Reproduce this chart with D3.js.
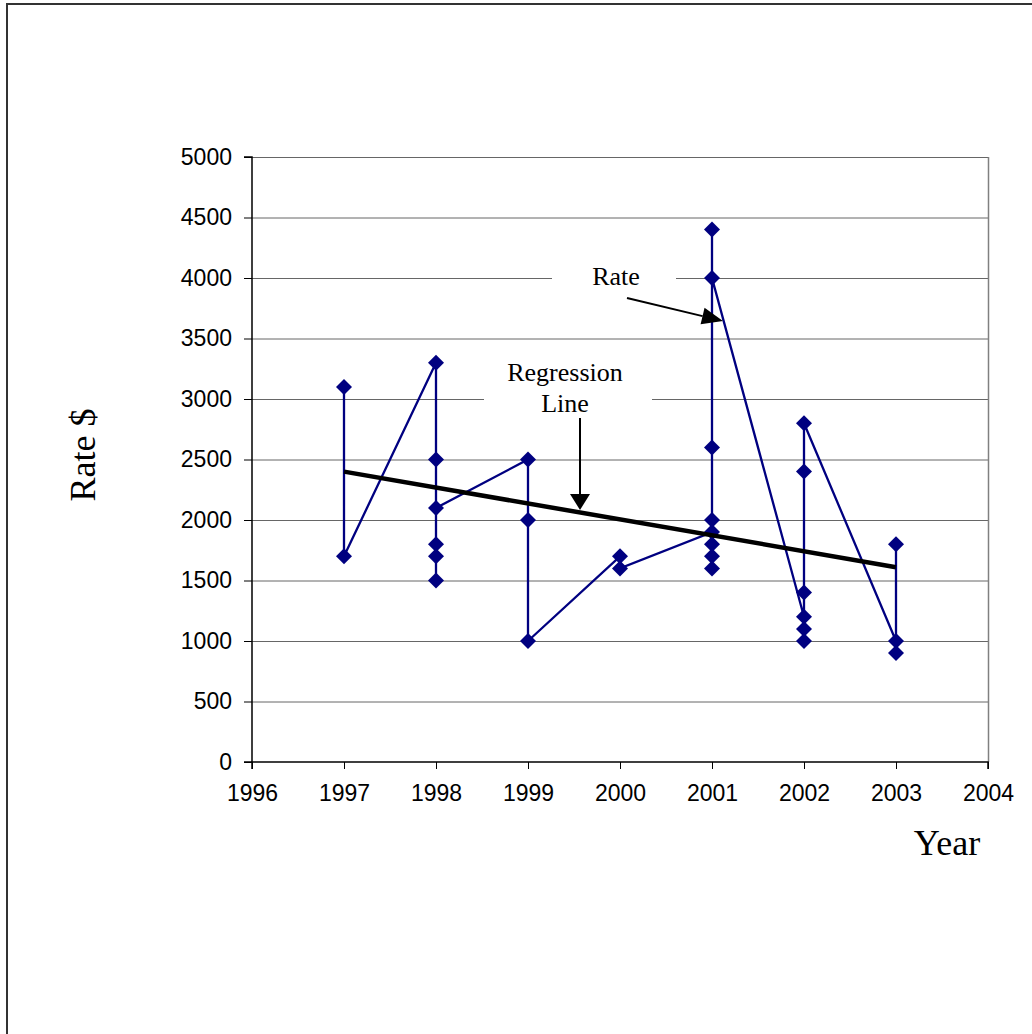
<!DOCTYPE html>
<html><head><meta charset="utf-8">
<script src="https://cdn.jsdelivr.net/npm/d3@7"></script>
<style>body{margin:0;background:#fff}svg{display:block}</style>
</head><body>
<svg id="c" width="1032" height="1034"></svg>
<script>
// data in drawing order (line connects points in this order)
const years = [1997,1997, 1998,1998,1998,1998,1998,1998, 1999,1999,1999, 2000,2000,
  2001,2001,2001,2001,2001,2001,2001,2001, 2002,2002,2002,2002,2002,2002, 2003,2003,2003];
const rates = [3100,1700, 3300,2500,1800,1700,1500,2100, 2500,2000,1000, 1700,1600,
  1900,1600,1700,1800,2000,2600,4400,4000, 1200,1000,1100,1400,2400,2800, 1000,900,1800];
const regYears = [1997, 2003];
const regRates = [2400, 1610];
const xTicks = [1996,1997,1998,1999,2000,2001,2002,2003,2004];
const yTicks = [0,500,1000,1500,2000,2500,3000,3500,4000,4500,5000];

const svg = d3.select('#c');
const L = 252, R = 988, T = 157, B = 762;
const x = d3.scaleLinear().domain([1996, 2004]).range([L, R]);
const y = d3.scaleLinear().domain([0, 5000]).range([B, T]);

// outer frame
svg.append('path').attr('d', 'M7,1040 L7,4 L1040,4').attr('fill', 'none')
  .attr('stroke', '#333').attr('stroke-width', 2);

// gridlines
svg.append('g').selectAll('line').data(yTicks.filter(d => d > 0)).join('line')
  .attr('x1', L).attr('x2', R).attr('y1', d => y(d) + 0.5).attr('y2', d => y(d) + 0.5)
  .attr('stroke', '#666').attr('stroke-width', 1);
// right border
svg.append('line').attr('x1', R + 0.5).attr('x2', R + 0.5).attr('y1', T).attr('y2', B)
  .attr('stroke', '#808080').attr('stroke-width', 1.5);

// axes
const fontTick = 'Liberation Sans, Arial, sans-serif';
const yAxis = svg.append('g').attr('transform', `translate(${L},0)`)
  .call(d3.axisLeft(y).tickValues(yTicks).tickSize(8).tickPadding(12).tickFormat(d3.format('d')));
const xAxis = svg.append('g').attr('transform', `translate(0,${B})`)
  .call(d3.axisBottom(x).tickValues(xTicks).tickSize(7).tickPadding(16).tickFormat(d3.format('d')));
[yAxis, xAxis].forEach(g => {
  g.select('.domain').attr('stroke', '#000').attr('stroke-width', 1.5);
  g.selectAll('.tick line').attr('stroke', '#000');
  g.selectAll('.tick text').attr('font-family', fontTick).attr('font-size', 23).attr('fill', '#000');
});
yAxis.select('.domain').attr('d', `M-8,${T}H0V${B}H-8`);
xAxis.select('.domain').attr('d', `M${L},7V0H${R}V7`);

// white text boxes (cover gridlines)
svg.append('rect').attr('x', 552).attr('y', 258).attr('width', 124).attr('height', 36).attr('fill', '#fff');
svg.append('rect').attr('x', 484).attr('y', 355).attr('width', 168).attr('height', 64).attr('fill', '#fff');

const serif = 'Liberation Serif, Times New Roman, serif';
svg.append('text').attr('x', 616).attr('y', 285).attr('text-anchor', 'middle')
  .attr('font-family', serif).attr('font-size', 26).text('Rate');
svg.append('text').attr('x', 565).attr('y', 381).attr('text-anchor', 'middle')
  .attr('font-family', serif).attr('font-size', 26).text('Regression');
svg.append('text').attr('x', 565).attr('y', 412).attr('text-anchor', 'middle')
  .attr('font-family', serif).attr('font-size', 26).text('Line');

// data line
const pts = years.map((yr, i) => [yr, rates[i]]);
svg.append('path').datum(pts)
  .attr('d', d3.line().x(d => x(d[0])).y(d => y(d[1])))
  .attr('fill', 'none').attr('stroke', '#000080').attr('stroke-width', 2.3);

// markers
svg.append('g').selectAll('path').data(pts).join('path')
  .attr('transform', d => `translate(${x(d[0])},${y(d[1])})`)
  .attr('d', 'M0,-8L8,0L0,8L-8,0Z').attr('fill', '#000080');

// regression line
const reg = regYears.map((yr, i) => [yr, regRates[i]]);
svg.append('path').datum(reg)
  .attr('d', d3.line().x(d => x(d[0])).y(d => y(d[1])))
  .attr('fill', 'none').attr('stroke', '#000').attr('stroke-width', 4.5);

// arrows
function arrow(x1, y1, x2, y2, len, w) {
  const a = Math.atan2(y2 - y1, x2 - x1);
  const bx = x2 - len * Math.cos(a), by = y2 - len * Math.sin(a);
  svg.append('line').attr('x1', x1).attr('y1', y1).attr('x2', bx).attr('y2', by)
    .attr('stroke', '#000').attr('stroke-width', 2);
  const px = -Math.sin(a) * w / 2, py = Math.cos(a) * w / 2;
  svg.append('path').attr('d', `M${x2},${y2}L${bx + px},${by + py}L${bx - px},${by - py}Z`).attr('fill', '#000');
}
arrow(627, 298, 723, 321, 21, 17);
arrow(580, 418, 580, 510, 16, 20);

// axis titles
svg.append('text').attr('transform', 'translate(95,455) rotate(-90)').attr('text-anchor', 'middle')
  .attr('font-family', serif).attr('font-size', 36).text('Rate $');
svg.append('text').attr('x', 947).attr('y', 855).attr('text-anchor', 'middle')
  .attr('font-family', serif).attr('font-size', 36).text('Year');
</script>
</body></html>
